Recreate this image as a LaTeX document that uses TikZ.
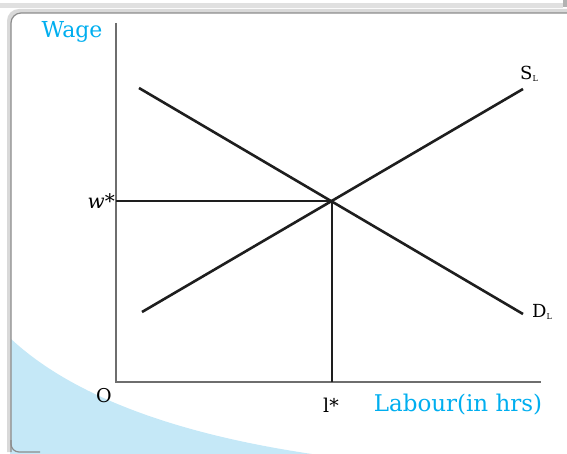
\documentclass[tikz,border=0pt]{standalone}
\usepackage{fontspec}
\setmainfont{DejaVu Serif}
\definecolor{axiscyan}{RGB}{0,174,239}
\definecolor{swoosh}{RGB}{197,232,247}
\definecolor{axisgrey}{RGB}{110,110,110}
\definecolor{curvedark}{RGB}{30,30,30}
\begin{document}
\begin{tikzpicture}[x=1pt,y=-1pt,
  axisline/.style={draw=axisgrey,line width=2.6pt},
  curveline/.style={draw=curvedark,line width=2.6pt},
  cyanlabel/.style={text=axiscyan,font=\fontsize{22}{22}\selectfont,inner sep=0pt},
  blacklabel/.style={text=black,font=\fontsize{19}{19}\selectfont,inner sep=0pt}]
\useasboundingbox (0,0) rectangle (567,454);
\begin{scope}
\clip (0,0) rectangle (567,454);
% back frame shadow
\fill[black!12] (0,3) rectangle (563,8);
\fill[black!30] (563,0) rectangle (567,7);
% blue swoosh
\fill[swoosh] (10,338) .. controls (60,385) and (150,430) .. (312,454) -- (10,454) -- cycle;
% main frame
\draw[black!15,line width=4pt,rounded corners=10] (9,452) -- (9,11) -- (600,11);
\draw[black!45,line width=1.2pt,rounded corners=10] (11,452) -- (11,13) -- (600,13);
\draw[black!45,line width=1.2pt,rounded corners=8] (11,440) -- (11,452) -- (40,452);
\end{scope}
% axes
\coordinate (ytop) at (116,23);
\coordinate (origin) at (116,382);
\coordinate (xend) at (541,382);
\draw[axisline] (ytop) -- (origin) -- (xend);
% curves
\coordinate (s1) at (142,312);
\coordinate (s2) at (523,89);
\coordinate (d1) at (139,88);
\coordinate (d2) at (523,314);
\draw[curveline] (s1) -- (s2);
\draw[curveline] (d1) -- (d2);
\coordinate (eq) at (332,201);
\coordinate (weq) at (116,201);
\coordinate (leq) at (332,382);
\draw[curveline] (weq) -- (eq) -- (leq);
% labels
\node[cyanlabel] (wage) at (72,32) {Wage};
\node[cyanlabel,font=\fontsize{23}{23}\selectfont] (labour) at (458,405) {Labour(in hrs)};
\node[blacklabel,anchor=east,font=\fontsize{20}{20}\selectfont] (wstar) at (115,201) {\textit{w}*};
\node[blacklabel] (O) at (104,396) {O};
\node[blacklabel] (lstar) at (331,405) {l*};
\node[text=black,inner sep=0pt,anchor=west] (SL) at (520,74) {\fontsize{18}{18}\selectfont S\raisebox{-2pt}{\fontsize{8}{8}\selectfont L}};
\node[text=black,inner sep=0pt,anchor=west] (DL) at (532,312) {\fontsize{18}{18}\selectfont D\raisebox{-2pt}{\fontsize{8}{8}\selectfont L}};
\end{tikzpicture}
\end{document}
